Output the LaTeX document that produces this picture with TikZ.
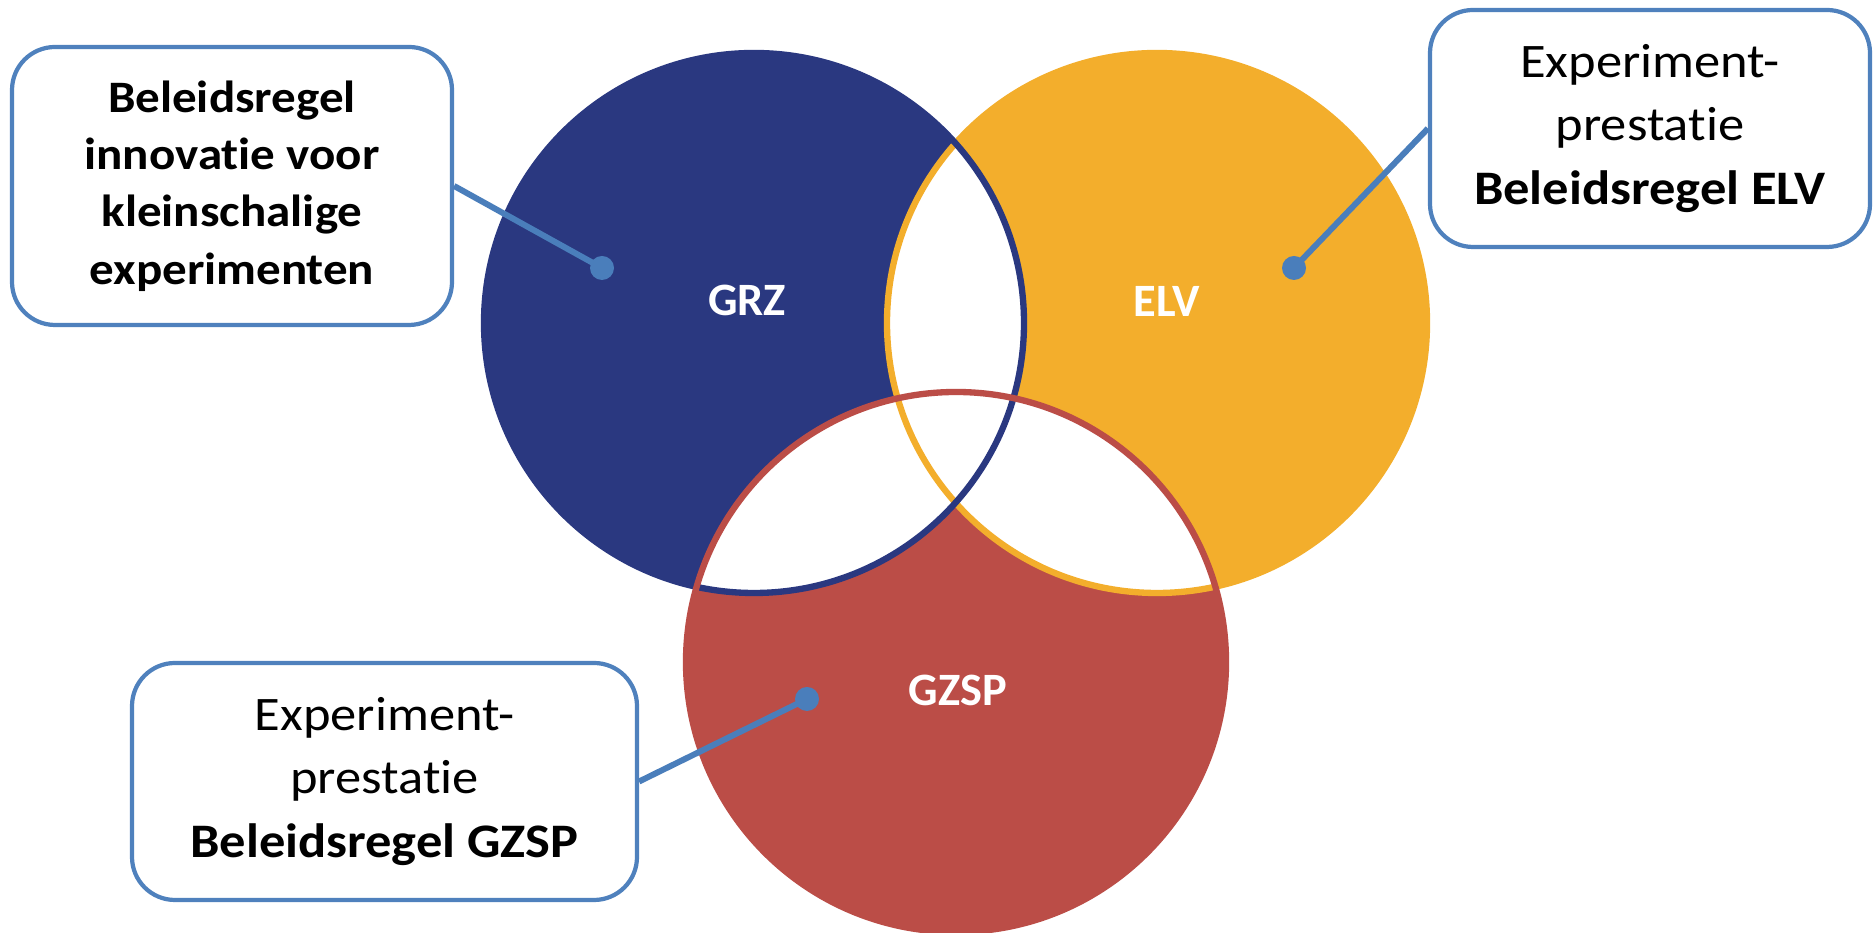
\documentclass[tikz,border=0pt]{standalone}
\usepackage{fontspec}
\setmainfont{Carlito}[Ligatures=NoCommon]
\newfontfamily\boxfont{Carlito}[FakeStretch=1.09, Ligatures=NoCommon]
\usepackage{tikz}
\definecolor{grzblue}{RGB}{42,56,128}
\definecolor{elvorange}{RGB}{243,174,44}
\definecolor{gzspred}{RGB}{187,77,71}
\definecolor{boxblue}{RGB}{79,129,189}
\definecolor{linkblue}{RGB}{74,126,187}

\begin{document}
\begin{tikzpicture}[
  labelbox/.style={draw=boxblue, line width=1.2pt, fill=white, rounded corners=0.43cm,
    align=center, inner sep=0pt, font=\boxfont\fontsize{13.7}{18.2}\selectfont},
  setname/.style={white, font=\fontsize{13.2}{15}\selectfont\bfseries},
  ring/.style={line width=1.8pt},
  link/.style={linkblue, line width=1.7pt},
  linkdot/.style={circle, fill=linkblue, inner sep=0pt, minimum size=0.24cm}]
\useasboundingbox (0,0) rectangle (18.73,9.33);

% centres of the three sets
\coordinate (grzc) at (7.54,6.10);
\coordinate (elvc) at (11.57,6.10);
\coordinate (gzspc) at (9.56,2.71);

\fill [grzblue] (grzc) circle (2.70);
\fill [elvorange] (elvc) circle (2.70);
\fill [gzspred] (gzspc) circle (2.70);

% overlaps stay white
\begin{scope}
\clip (grzc) circle (2.70);
\fill [white] (elvc) circle (2.70);
\fill [white] (gzspc) circle (2.70);
\end{scope}
\begin{scope}
\clip (elvc) circle (2.70);
\fill [white] (gzspc) circle (2.70);
\end{scope}

\draw [ring, elvorange] (elvc) circle (2.70);
\draw [ring, grzblue] (grzc) circle (2.70);
\draw [ring, gzspred] (gzspc) circle (2.70);

\node [setname] (grz) at (7.47,6.33) {GRZ};
\node [setname] (elv) at (11.67,6.32) {ELV};
\node [setname] (gzsp) at (9.58,2.43) {GZSP};

% text boxes
\node [labelbox, minimum width=4.40cm, minimum height=2.78cm,
  font=\boxfont\fontsize{12.8}{16.3}\selectfont\bfseries] (grzbox) at (2.32,7.47)
  {Beleidsregel\\innovatie voor\\kleinschalige\\experimenten};
\node [labelbox, minimum width=4.40cm, minimum height=2.37cm] (elvbox) at (16.50,8.045)
  {Experiment-\\prestatie\\\textbf{Beleidsregel ELV}};
\node [labelbox, minimum width=5.05cm, minimum height=2.37cm] (gzspbox) at (3.845,1.515)
  {Experiment-\\prestatie\\\textbf{Beleidsregel GZSP}};

\node [linkdot] (grzdot) at (6.02,6.65) {};
\node [linkdot] (elvdot) at (12.94,6.65) {};
\node [linkdot] (gzspdot) at (8.07,2.34) {};

\draw [link] (grzbox.east) -- (grzdot.center);
\draw [link] (elvbox.west) -- (elvdot.center);
\draw [link] (gzspbox.east) -- (gzspdot.center);

\end{tikzpicture}
\end{document}
